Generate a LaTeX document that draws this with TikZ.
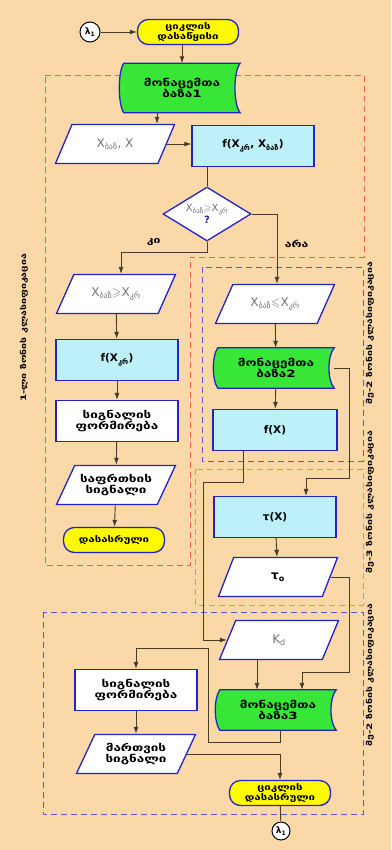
\documentclass[tikz,border=0pt]{standalone}
\usepackage{fontspec}
\usepackage{amssymb}
\setmainfont{DejaVu Sans}
\newfontfamily\gfont[FakeStretch=1.35]{DejaVu Sans}
\newfontfamily\zfont[FakeStretch=1.4]{DejaVu Sans}
\usetikzlibrary{shapes.geometric,arrows.meta,backgrounds}

\definecolor{peach}{RGB}{251,216,168}
\definecolor{edgeblue}{RGB}{35,35,200}
\definecolor{boxcyan}{RGB}{190,240,250}
\definecolor{dbgreen}{RGB}{55,230,55}
\definecolor{termyellow}{RGB}{255,250,0}
\definecolor{wire}{RGB}{70,60,40}
\definecolor{zonered}{RGB}{240,100,60}
\definecolor{zoneblue}{RGB}{95,85,215}
\definecolor{zonegreen}{RGB}{110,215,70}
\definecolor{xgray}{RGB}{115,115,115}

\newcommand\gsub[1]{\textsubscript{#1}}
\newcommand\dbshape[1]{%
  \begin{scope}[on background layer]
    \draw[edgeblue, line width=1.3pt, fill=dbgreen]
      (#1.north west) .. controls ([xshift=-6pt,yshift=-8pt]#1.north west) and ([xshift=-6pt,yshift=8pt]#1.south west) .. (#1.south west)
      -- (#1.south east) .. controls ([xshift=-7pt,yshift=8pt]#1.south east) and ([xshift=-7pt,yshift=-8pt]#1.north east) .. (#1.north east) -- cycle;
  \end{scope}}

\begin{document}
\begin{tikzpicture}[x=1pt, y=1pt,
  >={Latex[length=7pt,width=5pt]},
  gtext/.style = {font=\gfont\bfseries\fontsize{10}{11.5}\selectfont, align=center},
  ftext/.style = {font=\bfseries\fontsize{10.5}{12}\selectfont},
  term/.style = {draw=edgeblue, line width=1.3pt, fill=termyellow, rounded corners=11pt, minimum width=101pt, minimum height=25pt, inner sep=1pt, gtext, font=\gfont\bfseries\fontsize{8.5}{9.5}\selectfont},
  proc/.style = {draw=edgeblue, line width=1.3pt, fill=boxcyan, minimum width=122pt, minimum height=41pt, ftext},
  sig/.style = {proc, fill=white, gtext},
  data/.style = {trapezium, trapezium left angle=65, trapezium right angle=115, trapezium stretches body, draw=edgeblue, line width=1.3pt, fill=white, minimum width=119pt, minimum height=39pt, inner xsep=1pt, inner ysep=8.5pt, gtext},
  xdata/.style = {data, inner ysep=12pt, font=\fontsize{12}{14}\selectfont, text=xgray},
  db/.style = {minimum width=116pt, minimum height=40pt, gtext},
  dia/.style = {diamond, draw=edgeblue, line width=1.3pt, fill=white, minimum width=88pt, minimum height=54pt, inner sep=0pt},
  lam/.style = {circle, draw=black, line width=1pt, fill=white, minimum size=20pt, inner sep=0pt, font=\bfseries\fontsize{9}{9}\selectfont},
  conn/.style = {draw=wire, line width=0.9pt},
  zonelabel/.style = {rotate=90, font=\zfont\bfseries\fontsize{7.5}{8}\selectfont},
  yesno/.style = {font=\gfont\bfseries\fontsize{9}{10}\selectfont}]

\useasboundingbox (0,0) rectangle (391,-850);
\begin{scope}[on background layer]
  \fill[peach] (0,0) rectangle (391,-850);
  \draw[zonered, line width=0.9pt, dash pattern=on 6pt off 4pt] (45,-75) -- (364,-75) -- (364,-257) -- (190,-257) -- (190,-565) -- (45,-565) -- cycle;
  \draw[zoneblue, line width=0.9pt, dash pattern=on 6pt off 4pt] (202,-267) rectangle (363,-461);
  \draw[zonegreen, line width=0.9pt, dash pattern=on 6pt off 4pt] (195,-469) rectangle (363,-605);
  \draw[zoneblue, line width=0.9pt, dash pattern=on 6pt off 4pt] (43,-612) rectangle (363,-814);
\end{scope}

\node[lam, xshift=90pt, yshift=-32pt] (lam1) {λ\gsub{1}};
\node[term, xshift=188pt, yshift=-32pt] (start) {ციკლის\\დასაწყისი};
\node[db, minimum height=49pt, xshift=182pt, yshift=-88pt] (db1) {მონაცემთა\\ბაზა1};
\dbshape{db1}
\node[xdata, xshift=115pt, yshift=-144pt] (p1) {X\gsub{ბაზ}, X};
\node[proc, xshift=253pt, yshift=-146pt] (f1) {f(X\gsub{კრ}, X\gsub{ბაზ})};
\node[dia, xshift=207pt, yshift=-214pt, label={[text=xgray, font=\fontsize{10}{11}\selectfont, align=center]center:X\gsub{ბაზ}$\geqslant$X\gsub{კრ}\\{\color{edgeblue}\bfseries ?}}] (q) {};

\node[xdata, xshift=116pt, yshift=-294pt] (p3) {X\gsub{ბაზ}$\geqslant$X\gsub{კრ}};
\node[proc, xshift=117pt, yshift=-360pt] (f2) {f(X\gsub{კრ})};
\node[sig, xshift=117pt, yshift=-421pt] (s1) {სიგნალის\\ფორმირება};
\node[data, xshift=116pt, yshift=-485pt] (p4) {საფრთხის\\სიგნალი};
\node[term, xshift=114pt, yshift=-540pt] (end1) {დასასრული};

\node[xdata, xshift=275pt, yshift=-304pt] (p2) {X\gsub{ბაზ}$\leqslant$X\gsub{კრ}};
\node[db, xshift=276pt, yshift=-368pt] (db2) {მონაცემთა\\ბაზა2};
\dbshape{db2}
\node[proc, minimum width=124pt, xshift=275pt, yshift=-430pt] (f3) {f(X)};
\node[proc, xshift=275pt, yshift=-517pt] (tx) {τ(X)};
\node[data, inner ysep=12pt, xshift=278pt, yshift=-577pt, font=\bfseries\fontsize{12}{14}\selectfont] (to) {τ\gsub{o}};
\node[xdata, xshift=279pt, yshift=-640pt] (kd) {K\gsub{d}};
\node[db, xshift=278pt, yshift=-710pt] (db3) {მონაცემთა\\ბაზა3};
\dbshape{db3}
\node[sig, xshift=136pt, yshift=-690pt] (s2) {სიგნალის\\ფორმირება};
\node[data, xshift=136pt, yshift=-754pt] (p5) {მართვის\\სიგნალი};
\node[term, xshift=280pt, yshift=-793pt] (end2) {ციკლის\\დასასრული};
\node[lam, minimum size=18pt, xshift=281pt, yshift=-831pt] (lam2) {λ\gsub{1}};

\coordinate (k1) at (349,-478);
\coordinate (k2) at (203,-482);
\coordinate (k3) at (349,-672);
\coordinate (k4) at (208,-742);
\coordinate (k5) at (208,-648);

\node[xshift=24pt, yshift=-328pt, zonelabel] (z1) {1-ლი ზონის კლასიფიკაცია};
\node[xshift=370pt, yshift=-333pt, zonelabel] (z2) {მე-2 ზონის კლასიფიკაცია};
\node[xshift=370pt, yshift=-502pt, zonelabel] (z3) {მე-3 ზონის კლასიფიკაცია};
\node[xshift=370pt, yshift=-675pt, zonelabel] (z4) {მე-2 ზონის კლასიფიკაცია};

\draw[conn, ->] (lam1) -- (start);
\draw[conn, ->] (start.south -| db1.north) -- (db1.north);
\draw[conn, ->] ([xshift=-25pt]db1.south) -- ([xshift=-25pt]db1.south |- p1.north);
\draw[conn, ->] (p1.east) -- (p1.east -| f1.west);
\draw[conn] (q.north |- f1.south) -- (q.north);
\draw[conn, ->] (q.east) -| node[pos=0.71, right=4pt, yesno, text=black] {არა} ([xshift=2pt]p2.north);
\draw[conn, ->] (q.south) -- ++(0,-11) -| node[pos=0.31, above=3pt, yesno, text=black] {კი} ([xshift=5pt]p3.north);
\draw[conn, ->] (p3) -- (f2);
\draw[conn, ->] (f2) -- (s1);
\draw[conn, ->] (s1) -- (p4);
\draw[conn, ->] (p4) -- (end1);
\draw[conn, ->] (p2) -- (db2);
\draw[conn, ->] (db2) -- (f3);
\draw[conn, ->] (db2.east) -| (k1) -| ([xshift=31pt]tx.north);
\draw[conn, ->] ([xshift=-32pt]f3.south) |- (k2) |- (kd.west);
\draw[conn, ->] (tx) -- (to);
\draw[conn, ->] (to.east) -| (k3) -| ([xshift=24pt]db3.north);
\draw[conn, ->] ([xshift=-21pt]db3.north |- kd.south) -- ([xshift=-21pt]db3.north);
\draw[conn, ->] ([xshift=2pt]db3.south) |- (k4) -- (k5) -| (s2.north);
\draw[conn, ->] (s2) -- (p5);
\draw[conn, ->] (p5.east) -| (end2.north);
\draw[conn] (end2) -- (lam2);

\end{tikzpicture}
\end{document}
